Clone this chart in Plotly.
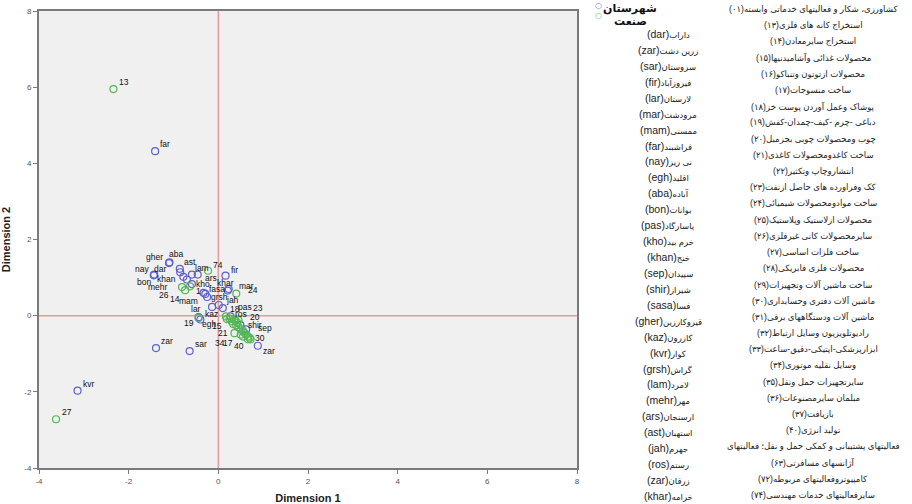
import plotly.graph_objects as go

# ---------------- data ----------------
city_codes = ["aba", "gher", "nay", "bon", "ast", "dar", "lam", "ars", "khan", "mehr",
              "kho", "fir", "khar", "mar", "fasa", "mam", "grsh", "jah", "lar", "pas",
              "kaz", "egh", "ros", "shir", "sep", "zar", "zar", "sar", "kvr", "far"]
city_x = [-1.09, -1.10, -1.43, -1.44, -0.86, -0.85, -0.59, -0.46, -0.78, -0.70,
          -0.59, 0.16, 0.21, 0.23, -0.33, -0.29, -0.25, 0.01, -0.14, 0.10,
          -0.44, -0.40, 0.27, 0.49, 0.62, 0.88, -1.39, -0.64, -3.14, -1.41]
city_y = [1.40, 1.38, 1.08, 1.06, 1.23, 1.14, 1.08, 1.08, 1.02, 0.95,
          0.83, 1.05, 0.66, 0.70, 0.60, 0.57, 0.49, 0.28, 0.23, 0.20,
          -0.04, -0.10, -0.02, -0.24, -0.36, -0.79, -0.85, -0.93, -1.97, 4.32]

ind_codes = ["1", "13", "14", "15", "16", "17", "18", "19", "20", "21",
             "22", "23", "24", "25", "26", "27", "28", "29", "30", "31",
             "32", "33", "34", "35", "36", "37", "40", "63", "72", "74"]
ind_x = [-0.63, -2.34, -0.74, 0.19, 0.25, 0.55, 0.17, -0.44, 0.38, 0.36,
         0.30, 0.45, 0.40, 0.33, -0.81, -3.62, 0.40, 0.45, 0.70, 0.50,
         0.55, 0.58, 0.50, 0.62, 0.66, 0.72, 0.66, 0.35, 0.42, -0.23]
ind_y = [0.77, 5.95, 0.67, -0.09, -0.08, -0.55, -0.02, -0.06, -0.13, -0.46,
         -0.15, -0.12, 0.58, -0.22, 0.75, -2.72, -0.25, -0.30, -0.58, -0.36,
         -0.40, -0.45, -0.50, -0.50, -0.55, -0.62, -0.62, -0.10, -0.18, 1.18]
ind_shown = ["1", "13", "14", "15", "17", "18", "19", "20", "21", "23",
             "24", "26", "27", "30", "34", "40", "74"]

tick_vals = [-4, -2, 0, 2, 4, 6, 8]
tick_text = ["-4", "-2", "0", "2", "4", "6", "8"]

legend_names = ["شهرستان", "صنعت"]

city_key_code = ["dar", "zar", "sar", "fir", "lar", "mar", "mam", "far", "nay", "egh",
                 "aba", "bon", "pas", "kho", "khan", "sep", "shir", "sasa", "gher", "kaz",
                 "kvr", "grsh", "lam", "mehr", "ars", "ast", "jah", "ros", "zar", "khar"]
city_key_name = ["داراب", "زرین دشت", "سروستان", "فیروزآباد", "لارستان", "مرودشت",
                 "ممسنی", "فراشبند", "نی ریز", "اقلید", "آباده", "بوانات", "پاسارگاد",
                 "خرم بید", "خنج", "سپیدان", "شیراز", "فسا", "قیروکارزین", "کازرون",
                 "کوار", "گراش", "لامرد", "مهر", "ارسنجان", "استهبان", "جهرم", "رستم",
                 "زرقان", "خرامه"]

industry_key = ["کشاورزی، شکار و فعالیتهای خدماتی وابسته(۰۱)",
                "استخراج کانه های فلزی(۱۳)",
                "استخراج سایرمعادن(۱۴)",
                "محصولات غذائی وآشامیدنیها(۱۵)",
                "محصولات ازتوتون وتنباکو(۱۶)",
                "ساخت منسوجات(۱۷)",
                "پوشاک وعمل آوردن پوست خز(۱۸)",
                "دباغی -چرم -کیف-چمدان-کفش(۱۹)",
                "چوب ومحصولات چوبی بجزمبل(۲۰)",
                "ساخت کاغذومحصولات کاغذی(۲۱)",
                "انتشاروچاپ وتکثیر(۲۲)",
                "کک وفراورده های حاصل ازنفت(۲۳)",
                "ساخت موادومحصولات شیمیائی(۲۴)",
                "محصولات ازلاستیک وپلاستیک(۲۵)",
                "سایرمحصولات کانی غیرفلزی(۲۶)",
                "ساخت فلزات اساسی(۲۷)",
                "محصولات فلزی فابریکی(۲۸)",
                "ساخت ماشین آلات وتجهیزات(۲۹)",
                "ماشین آلات دفتری وحسابداری(۳۰)",
                "ماشین آلات ودستگاههای برقی(۳۱)",
                "رادیوتلویزیون وسایل ارتباط(۳۲)",
                "ابزارپزشکی-اپتیکی-دقیق-ساعت(۳۳)",
                "وسایل نقلیه موتوری(۳۴)",
                "سایرتجهیزات حمل ونقل(۳۵)",
                "مبلمان سایرمصنوعات(۳۶)",
                "بازیافت(۳۷)",
                "تولید انرژی(۴۰)",
                "فعالیتهای پشتیبانی و کمکی حمل و نقل؛ فعالیتهای",
                "آژانسهای مسافرتی(۶۳)",
                "کامپیوتروفعالیتهای مربوطه(۷۲)",
                "سایرفعالیتهای خدمات مهندسی(۷۴)"]

# ---------------- label placement styles (pixel offsets) ----------------
city_lbl_style = {
    "aba": ("l", -2, 8), "gher": ("r", -4, 6), "nay": ("r", -3, 6), "bon": ("r", -1, -7),
    "ast": ("l", 2, 7), "dar": ("r", -12, 3), "lam": ("l", 1, 7), "ars": ("l", 5, -3),
    "khan": ("r", -5, -2), "mehr": ("r", -17, -8), "kho": ("l", 2, 0), "fir": ("l", 3, 6),
    "khar": ("l", -13, 8), "mar": ("l", 8, 3), "fasa": ("l", 3, 4), "mam": ("r", -5, -7),
    "grsh": ("l", 2, 0), "jah": ("l", 5, 5), "lar": ("r", -9, -2), "pas": ("l", 13, 1),
    "kaz": ("l", 4, 3), "egh": ("l", 0, -5), "ros": ("l", 3, 2), "shir": ("l", 6, 0),
    "sep": ("l", 10, 1), "sar": ("l", 3, 7), "kvr": ("l", 3, 7), "far": ("l", 3, 7),
}
zar_styles = [("l", 3, -5), ("l", 3, 7)]
ind_lbl_style = {
    "1": ("l", 4, -5), "13": ("l", 4, 7), "14": ("r", -3, -9), "15": ("r", -3, -7),
    "17": ("r", -8, -6), "18": ("l", 2, 7), "19": ("r", -3, -5), "20": ("l", 13, 4),
    "21": ("r", -4, 0), "23": ("l", 12, 12), "24": ("l", 10, 4), "26": ("r", -11, -8),
    "27": ("l", 4, 7), "30": ("l", 3, 0), "34": ("r", -14, -8), "40": ("r", -2, -7),
    "74": ("l", 3, 6),
}

BLUE = "#5f5fcf"
GREEN = "#52b852"
FONT = "Liberation Sans, Arial, DejaVu Sans, sans-serif"

fig = go.Figure()
fig.add_trace(go.Scatter(
    x=city_x, y=city_y, mode="markers", name=legend_names[0],
    marker=dict(symbol="circle-open", size=7, color=BLUE, line=dict(width=1.2)),
    text=city_codes, hoverinfo="text"))
fig.add_trace(go.Scatter(
    x=ind_x, y=ind_y, mode="markers", name=legend_names[1],
    marker=dict(symbol="circle-open", size=7, color=GREEN, line=dict(width=1.2)),
    text=ind_codes, hoverinfo="text"))

annotations = []


def add_label(x, y, txt, style):
    side, dx, dy = style
    annotations.append(dict(
        x=x, y=y, xref="x", yref="y", text=txt, showarrow=False,
        xanchor="left" if side == "l" else "right", yanchor="middle",
        xshift=dx, yshift=dy, font=dict(family=FONT, size=8.5, color="#111")))


zi = 0
for cx, cy, code in zip(city_x, city_y, city_codes):
    if code == "zar":
        st = zar_styles[zi]
        zi += 1
    else:
        st = city_lbl_style[code]
    add_label(cx, cy, code, st)

for ix, iy, code in zip(ind_x, ind_y, ind_codes):
    if code in ind_shown:
        add_label(ix, iy, code, ind_lbl_style[code])

# ---------------- right-hand keys (paper coordinates from pixel layout) ----------------
L, R, T, B = 39, 577, 11, 468


def px2paper(px, py):
    return (px - L) / (R - L), (B - py) / (B - T)


for i, (code, name) in enumerate(zip(city_key_code, city_key_name)):
    xx, yy = px2paper(668, 34 + i * 15.93)
    txt = ('<span style="font-size:10.5px">(' + code + ')</span>'
           '<span style="font-size:8.5px">' + name + '</span>')
    annotations.append(dict(x=xx, y=yy, xref="paper", yref="paper", text=txt,
                            showarrow=False, xanchor="center", yanchor="middle",
                            font=dict(family=FONT, size=9, color="#222")))
for i, t in enumerate(industry_key):
    xx, yy = px2paper(813, 9 + i * 16.2)
    annotations.append(dict(x=xx, y=yy, xref="paper", yref="paper",
                            text=t, showarrow=False,
                            xanchor="center", yanchor="middle",
                            font=dict(family=FONT, size=8.6, color="#222")))

# legend drawn as key marks + text
for i, (nm, col) in enumerate(zip(legend_names, [BLUE, GREEN])):
    cx, cy = px2paper(598, 6 + i * 9.5)
    annotations.append(dict(x=cx, y=cy, xref="paper", yref="paper", text="○",
                            showarrow=False, xanchor="center", yanchor="middle",
                            font=dict(family="DejaVu Sans", size=8, color=col)))
    tx, ty = px2paper(630, 8 + i * 13)
    annotations.append(dict(x=tx, y=ty, xref="paper", yref="paper",
                            text="<b>" + nm + "</b>", showarrow=False,
                            xanchor="center", yanchor="middle",
                            font=dict(family=FONT, size=11, color="#111")))

fig.update_layout(
    width=912, height=504,
    margin=dict(l=L, r=912 - R, t=T, b=504 - B, pad=0, autoexpand=False),
    paper_bgcolor="white", plot_bgcolor="#f0f0f0",
    showlegend=False,
    annotations=annotations,
    font=dict(family=FONT, color="#333"),
)
fig.add_shape(type="line", xref="x", yref="paper", x0=0, x1=0, y0=0, y1=1,
              line=dict(color="#e69a9a", width=1.5), layer="below")
fig.add_shape(type="line", xref="paper", yref="y", x0=0, x1=1, y0=0, y1=0,
              line=dict(color="#e69a9a", width=1.5), layer="below")

axis_common = dict(range=[-4, 8], tickvals=tick_vals, ticktext=tick_text,
                   showgrid=False, zeroline=False, showline=True, mirror=True,
                   linecolor="#7a7a7a", linewidth=2, ticks="outside", ticklen=4,
                   tickcolor="#7a7a7a", automargin=False,
                   tickfont=dict(family=FONT, size=8, color="#555"))
fig.update_xaxes(**axis_common,
                 title=dict(text="<b>Dimension 1</b>",
                            font=dict(family=FONT, size=11, color="#222")))
fig.update_yaxes(**axis_common,
                 title=dict(text="<b>Dimension 2</b>",
                            font=dict(family=FONT, size=11, color="#222")))

fig.write_html("out.html",
               config={"displayModeBar": False},
               post_script="document.body.style.margin='0';"
                           "document.body.style.overflow='hidden';")
